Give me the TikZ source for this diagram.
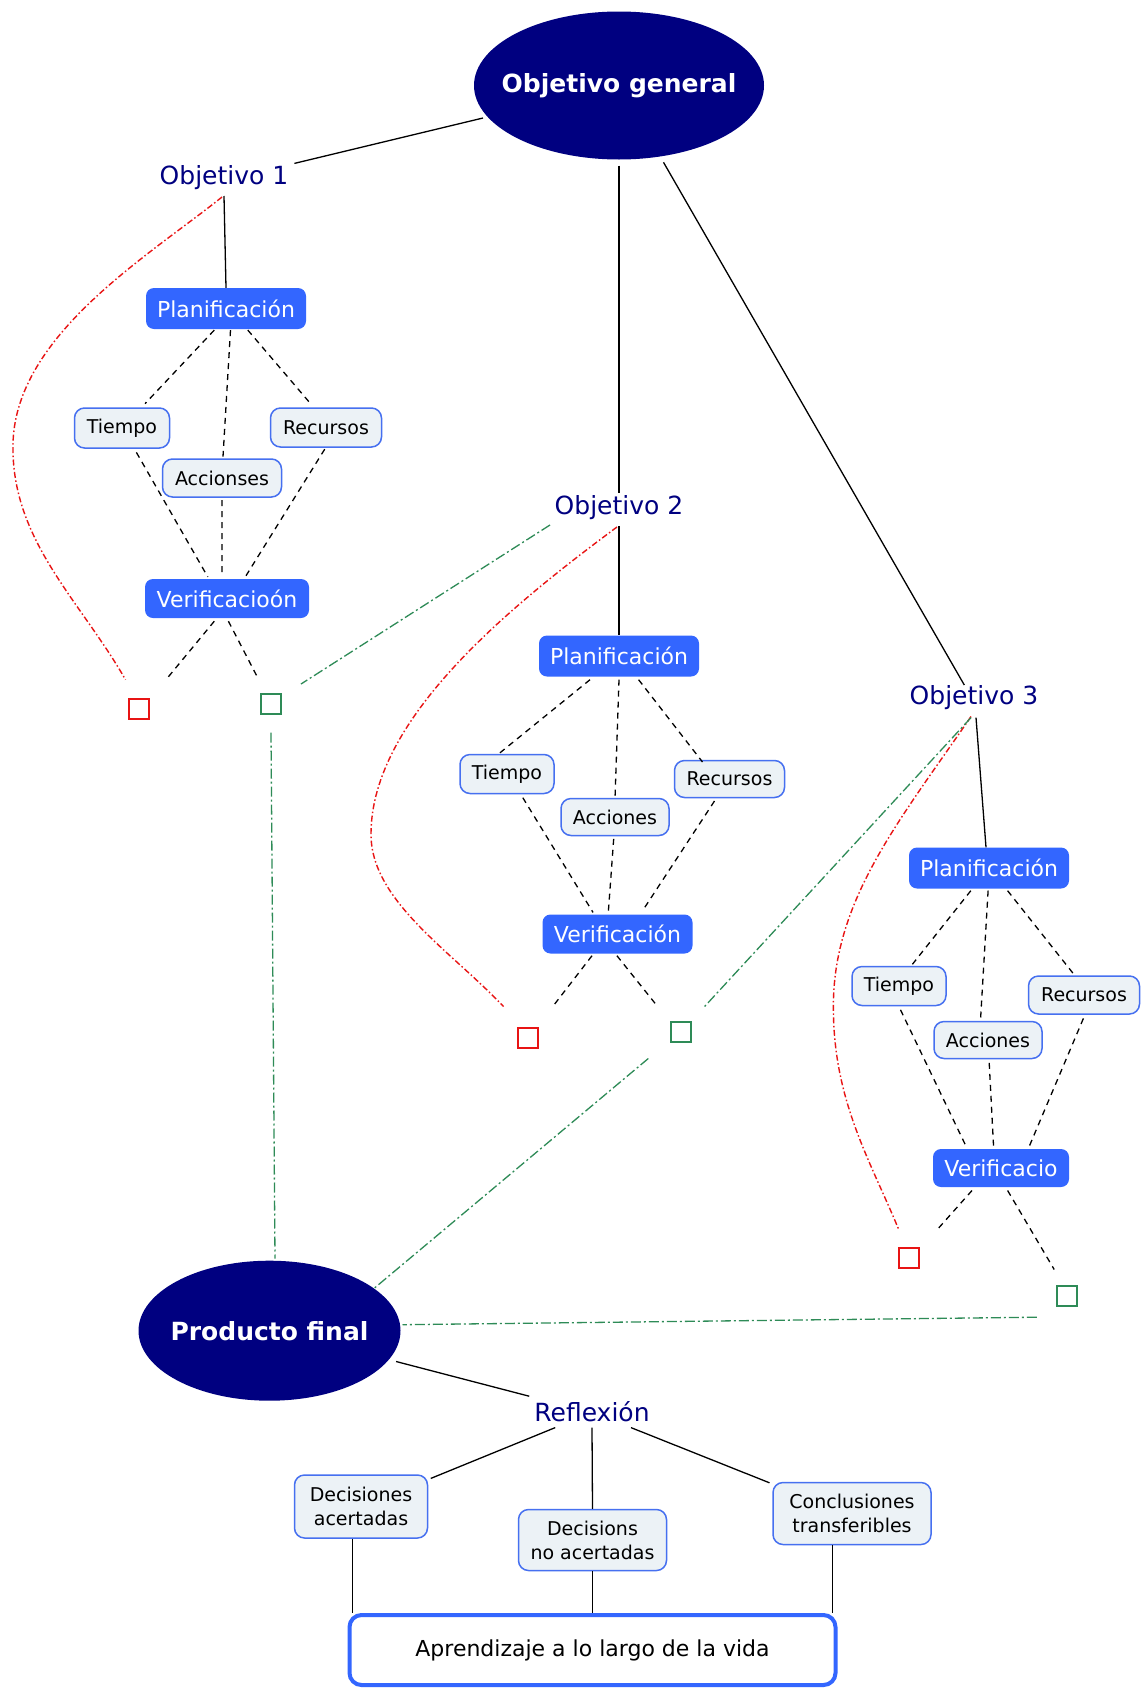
\documentclass[tikz,border=0pt]{standalone}
\usepackage{fontspec}
\setmainfont{DejaVu Sans}
\usetikzlibrary{shapes.geometric,calc}

\definecolor{navyc}{RGB}{0,0,128}
\definecolor{boxblue}{RGB}{51,102,255}
\definecolor{lightfill}{RGB}{236,242,246}
\definecolor{lightedge}{RGB}{70,112,240}
\definecolor{redc}{RGB}{232,20,20}
\definecolor{greenc}{RGB}{46,139,87}

\tikzset{
  bigoval/.style={ellipse, fill=navyc, text=white, inner sep=0pt,
    font=\fontsize{25}{30}\selectfont\bfseries},
  lvl/.style={text=navyc, inner sep=0pt, font=\fontsize{25}{30}\selectfont},
  bluebox/.style={rectangle, rounded corners=8pt, fill=boxblue, text=white,
    inner sep=0pt, minimum height=40pt, font=\fontsize{22}{26}\selectfont},
  smallbox/.style={rectangle, rounded corners=10pt, fill=lightfill, draw=lightedge,
    line width=1.5pt, inner sep=0pt, font=\fontsize{19}{24}\selectfont, align=center},
  redsq/.style={rectangle, draw=redc, line width=2pt, minimum size=20pt, inner sep=0pt},
  greensq/.style={rectangle, draw=greenc, line width=2pt, minimum size=20pt, inner sep=0pt},
  solidln/.style={line width=1.3pt, black},
  dashln/.style={line width=1.3pt, black, dash pattern=on 6pt off 5pt},
  redln/.style={line width=1.4pt, redc, dash pattern=on 6pt off 2.5pt on 1.5pt off 2.5pt},
  greenln/.style={line width=1.3pt, greenc, dash pattern=on 10pt off 3pt on 2pt off 3pt},
}

\begin{document}
\begin{tikzpicture}[x=1pt,y=-1pt]
\fill[white] (0,0) rectangle (1144,1697);
\useasboundingbox (0,0) rectangle (1144,1697);

% ---- top level ----
\node[bigoval, minimum width=290pt, minimum height=148pt] (og) at (619,85.5) {\makebox[0pt]{Objetivo general}};
\node[lvl] (o1) at (224,177.5) {Objetivo 1};
\node[lvl] (o2) at (619,507.5) {Objetivo 2};
\node[lvl] (o3) at (974,698) {Objetivo 3};

% ---- branch 1 ----
\node[bluebox, minimum width=160pt, minimum height=41pt] (p1) at (226,308.5) {Planificación};
\node[smallbox, minimum width=95pt, minimum height=40pt] (t1) at (122,428) {Tiempo};
\node[smallbox, minimum width=111pt, minimum height=39pt] (r1) at (326,427.5) {Recursos};
\node[smallbox, minimum width=119pt, minimum height=38pt] (a1) at (222,478) {Accionses};
\node[bluebox, minimum width=164pt, minimum height=39pt] (v1) at (227,598.5) {Verificacioón};
\node[redsq] (rs1) at (138.5,708.5) {};
\node[greensq] (gs1) at (271,703.5) {};

% ---- branch 2 ----
\node[bluebox, minimum width=160pt, minimum height=41pt] (p2) at (619,656) {Planificación};
\node[smallbox, minimum width=94pt, minimum height=39pt] (t2) at (507,774) {Tiempo};
\node[smallbox, minimum width=108pt, minimum height=37pt] (a2) at (615,817) {Acciones};
\node[smallbox, minimum width=110pt, minimum height=37pt] (r2) at (729.5,779) {Recursos};
\node[bluebox, minimum width=150pt, minimum height=39pt] (v2) at (617.5,934) {Verificación};
\node[redsq] (rs2) at (527.5,1037.5) {};
\node[greensq] (gs2) at (681,1031.5) {};

% ---- branch 3 ----
\node[bluebox, minimum width=160pt, minimum height=41pt] (p3) at (989,868) {Planificación};
\node[smallbox, minimum width=94pt, minimum height=39pt] (t3) at (899,986) {Tiempo};
\node[smallbox, minimum width=108pt, minimum height=37pt] (a3) at (988,1040) {Acciones};
\node[smallbox, minimum width=111pt, minimum height=38pt] (r3) at (1084,995) {Recursos};
\node[bluebox, minimum width=136pt, minimum height=38pt] (v3) at (1001,1168) {Verificacio};
\node[redsq] (rs3) at (908.5,1257.5) {};
\node[greensq] (gs3) at (1066.6,1295.5) {};

% ---- bottom ----
\node[bigoval, minimum width=262pt, minimum height=140pt] (pf) at (269.5,1330.7) {\makebox[0pt]{Producto final}};
\node[lvl] (rf) at (592,1412) {Reflexión};
\node[smallbox, minimum width=133pt, minimum height=63pt] (d1) at (361,1506.5) {Decisiones\\acertadas};
\node[smallbox, minimum width=148pt, minimum height=61pt] (d2) at (592.5,1540) {Decisions\\no acertadas};
\node[smallbox, minimum width=158pt, minimum height=62pt] (d3) at (852,1513.5) {Conclusiones\\transferibles};
\node[rectangle, rounded corners=12pt, draw=boxblue, line width=4pt, fill=white,
  minimum width=486pt, minimum height=70pt, inner sep=0pt,
  font=\fontsize{22}{26}\selectfont] (ap) at (592.5,1650) {Aprendizaje a lo largo de la vida};

% ---- solid hierarchy links ----
\draw[solidln] ($(og)+(-136,32.5)$) -- ($(o1)+(70.4,-14.1)$);
\draw[solidln] ($(og)+(0,80)$) -- ($(o2)+(0,-15)$);
\draw[solidln] ($(og)+(44.5,76.8)$) -- ($(o3)+(-9.7,-13)$);
\draw[solidln] ($(o1)+(0,18.5)$) -- (p1.north);
\draw[solidln] ($(o2)+(0,18.5)$) -- (p2.north);
\draw[solidln] ($(o3)+(2,19.6)$) -- ($(p3.north)+(-3,0)$);

% ---- dashed links, branch 1 ----
\draw[dashln] ($(p1)+(-11.7,21.6)$) -- ($(t1)+(23,-24.3)$);
\draw[dashln] ($(p1)+(4.5,21.6)$) -- ($(a1)+(1,-21.3)$);
\draw[dashln] ($(p1)+(21.8,21.6)$) -- ($(r1)+(-15.4,-23.8)$);
\draw[dashln] ($(t1)+(14.4,24.4)$) -- ($(v1)+(-19.2,-21.6)$);
\draw[dashln] ($(a1)+(0,22)$) -- ($(v1)+(-5.1,-21.6)$);
\draw[dashln] ($(r1)+(-1.3,21.7)$) -- ($(v1)+(17.6,-20.5)$);
\draw[dashln] ($(v1)+(-12.7,22.7)$) -- ($(rs1)+(29.3,-31)$);
\draw[dashln] ($(v1)+(1.4,22.7)$) -- ($(gs1)+(-14.5,-28.1)$);

% ---- dashed links, branch 2 ----
\draw[dashln] ($(p2)+(-29,23.7)$) -- ($(t2)+(-9,-19.6)$);
\draw[dashln] ($(p2)+(0,23.7)$) -- ($(a2)+(0,-18.3)$);
\draw[dashln] ($(p2)+(19.6,23.7)$) -- ($(r2)+(-27,-17)$);
\draw[dashln] ($(t2)+(15.8,23.7)$) -- ($(v2)+(-24.5,-21.6)$);
\draw[dashln] ($(a2)+(-1.3,21.8)$) -- ($(v2)+(-9.2,-21.6)$);
\draw[dashln] ($(r2)+(-15,22)$) -- ($(v2)+(25.4,-23.8)$);
\draw[dashln] ($(v2)+(-25.5,21.7)$) -- ($(rs2)+(24.5,-30)$);
\draw[dashln] ($(v2)+(-0.6,21.7)$) -- ($(gs2)+(-25,-27)$);

% ---- dashed links, branch 3 ----
\draw[dashln] ($(p3)+(-18.2,22.7)$) -- ($(t3)+(13.4,-21.7)$);
\draw[dashln] ($(p3)+(-0.9,22.7)$) -- ($(a3)+(-7.4,-21.6)$);
\draw[dashln] ($(p3)+(18.6,22.7)$) -- ($(r3)+(-10.4,-21)$);
\draw[dashln] ($(t3)+(1.5,23.8)$) -- ($(v3)+(-34.5,-20.8)$);
\draw[dashln] ($(a3)+(1.2,22.8)$) -- ($(v3)+(-7.4,-20.8)$);
\draw[dashln] ($(r3)+(-0.6,23.4)$) -- ($(v3)+(28.3,-21.8)$);
\draw[dashln] ($(v3)+(-29,22.5)$) -- ($(rs3)+(28.8,-28)$);
\draw[dashln] ($(v3)+(6.6,22.5)$) -- ($(gs3)+(-12.4,-26)$);

% ---- red dash-dot curves ----
\draw[redln] ($(o1)+(-2,19.5)$) .. controls (150,255) and (15,335) .. (13,444)
  .. controls (11,540) and (80,600) .. ($(rs1)+(-13,-28.8)$);
\draw[redln] ($(o2)+(-2,19.5)$) .. controls (505,610) and (372,720) .. (371,833)
  .. controls (370,900) and (450,950) .. ($(rs2)+(-24,-31)$);
\draw[redln] ($(o3)+(-3,18.5)$) .. controls (900,820) and (833,900) .. (833.4,1006.5)
  .. controls (833,1100) and (870,1160) .. ($(rs3)+(-10.2,-29)$);

% ---- green dash-dot links ----
\draw[greenln] ($(o2)+(-69,17.5)$) -- ($(gs1)+(30,-19.5)$);
\draw[greenln] ($(gs1)+(0,29)$) -- ($(pf)+(5.5,-72)$);
\draw[greenln] ($(o3)+(-3,19.6)$) -- ($(gs2)+(23.6,-25)$);
\draw[greenln] ($(gs2)+(-32.7,27)$) -- ($(pf)+(105,-42.7)$);
\draw[greenln] ($(gs3)+(-29.8,21.7)$) -- ($(pf)+(133,-6)$);

% ---- reflection ----
\draw[solidln] ($(pf)+(126.6,30.8)$) -- ($(rf)+(-62.8,-15.8)$);
\draw[solidln] ($(rf)+(-36.8,15.6)$) -- ($(d1)+(69.8,-28.1)$);
\draw[solidln] ($(rf)+(0,15.6)$) -- (d2.north);
\draw[solidln] ($(rf)+(39,15.6)$) -- ($(d3)+(-82.5,-30.7)$);
\draw[solidln] ($(d1.south)+(-8.2,0)$) -- ($(ap.north)+(-239.7,0)$);
\draw[solidln] (d2.south) -- (ap.north);
\draw[solidln] ($(d3.south)+(-19.7,0)$) -- ($(ap.north)+(239.8,0)$);
\end{tikzpicture}
\end{document}
